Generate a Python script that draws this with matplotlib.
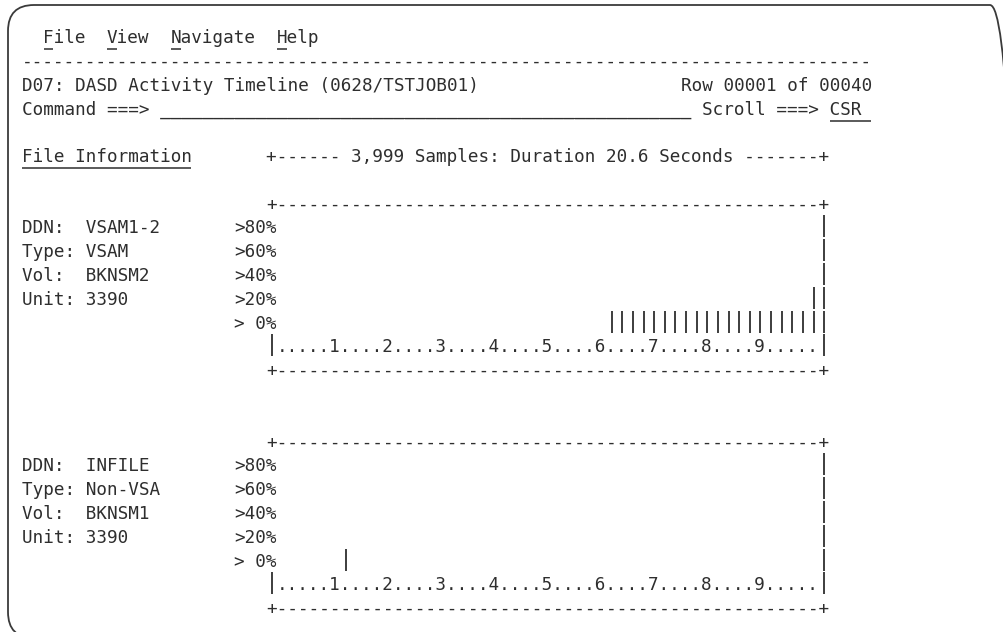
import matplotlib
matplotlib.use("Agg")
import matplotlib.pyplot as plt
from matplotlib.patches import FancyBboxPatch

# screen header text
menu_items = ["File", "View", "Navigate", "Help"]
panel_title = "D07: DASD Activity Timeline (0628/TSTJOB01)"
row_info = "Row 00001 of 00040"
samples = "3,999"
duration = "20.6"
scroll_value = "CSR"

# y-axis bands, top to bottom
level_labels = [">80%", ">60%", ">40%", ">20%", "> 0%"]
time_ticks = [1, 2, 3, 4, 5, 6, 7, 8, 9]

# file 1
file1_info = ["DDN:  VSAM1-2", "Type: VSAM", "Vol:  BKNSM2", "Unit: 3390"]
# activity level per timeline column (0 = none, 1 = >0%, 2 = >20% ...)
file1_activity = [0, 0, 0, 0, 0, 0, 0, 0, 0, 0,
                  0, 0, 0, 0, 0, 0, 0, 0, 0, 0,
                  0, 0, 0, 0, 0, 0, 0, 0, 0, 0,
                  0, 1, 1, 1, 1, 1, 1, 1, 1, 1,
                  1, 1, 1, 1, 1, 1, 1, 1, 1, 1,
                  2]

# file 2
file2_info = ["DDN:  INFILE", "Type: Non-VSA", "Vol:  BKNSM1", "Unit: 3390"]
file2_activity = [0, 0, 0, 0, 0, 0, 1, 0, 0, 0,
                  0, 0, 0, 0, 0, 0, 0, 0, 0, 0,
                  0, 0, 0, 0, 0, 0, 0, 0, 0, 0,
                  0, 0, 0, 0, 0, 0, 0, 0, 0, 0,
                  0, 0, 0, 0, 0, 0, 0, 0, 0, 0,
                  0]

W, H = 1004, 632
CW = 10.625      # character cell width (px)
LH = 23.8        # line height (px)
X0, Y0 = 22, 43  # left edge of col 0, baseline of row 0 (from top)
FS = 12.71
INK = "#2e2e2e"

def cx(col):
    return X0 + col * CW

def by(row):
    # y measured from bottom, since the axes is not inverted
    return H - (Y0 + row * LH)

fig = plt.figure(figsize=(W / 100, H / 100), dpi=100)
ax = fig.add_axes([0, 0, 1, 1])
ax.set_xlim(0, W)
ax.set_ylim(0, H)
ax.axis("off")

def put(row, col, s):
    ax.text(cx(col), by(row), s, family="DejaVu Sans Mono", fontsize=FS,
            color=INK, ha="left", va="baseline")

def uline(row, c0, c1, dy=5.5):
    ax.plot([cx(c0) + 0.5, cx(c1) - 0.5], [by(row) - dy] * 2, color=INK, lw=1.1,
            solid_capstyle="butt")

def vbar(row, col):
    ax.plot([cx(col) + CW / 2] * 2, [by(row) + 18, by(row) - 4], color=INK,
            lw=1.3, solid_capstyle="butt")

# outer rounded frame, right and bottom edges fall just past the picture
ax.add_patch(FancyBboxPatch((8, H - 638), 1016 - 8, 638 - 5,
                            boxstyle="round,pad=0,rounding_size=26",
                            fill=False, ec="#3a3a3a", lw=1.3))

# menu bar
col = 2
for item in menu_items:
    put(0, col, item)
    uline(0, col, col + 1)
    col += len(item) + 2

put(1, 0, "-" * 80)
put(2, 0, panel_title)
put(2, 80 - len(row_info), row_info)
put(3, 0, "Command ===> " + "_" * 50 + " Scroll ===> " + scroll_value)
uline(3, 76, 80, dy=6.5)

put(5, 0, "File Information")
uline(5, 0, 16, dy=6)
header = " %s Samples: Duration %s Seconds " % (samples, duration)
put(5, 23, "+------" + header + "-------+")

axis_str = "....." + "".join(str(t) + "...." for t in time_ticks) + "."
width = len(axis_str)


def chart(top, info, activity):
    put(top, 23, "+" + "-" * width + "+")
    for i, s in enumerate(info):
        put(top + 1 + i, 0, s)
    for k, lab in enumerate(level_labels):
        row = top + 1 + k
        put(row, 20, lab)
        level = len(level_labels) - k
        for j, a in enumerate(activity):
            if a >= level:
                vbar(row, 24 + j)
        vbar(row, 24 + width)
    row = top + 1 + len(level_labels)
    vbar(row, 23)
    put(row, 24, axis_str)
    vbar(row, 24 + width)
    put(row + 1, 23, "+" + "-" * width + "+")


chart(7, file1_info, file1_activity)
chart(17, file2_info, file2_activity)

fig.savefig("out.png", dpi=100, facecolor="white")
